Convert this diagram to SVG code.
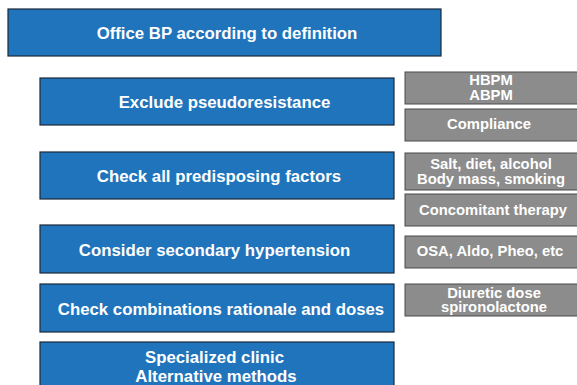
<svg xmlns="http://www.w3.org/2000/svg" width="577" height="385" viewBox="0 0 577 385">
<style>
.b{fill:#1f74bb;stroke:#1b2a3a;stroke-width:1.2}
.g{fill:#8c8c8c;stroke:#4a4a4a;stroke-width:1}
.t{font-family:"Liberation Sans",Arial,sans-serif;font-weight:bold;fill:#fff;text-anchor:middle}
.bt{font-size:16.8px}
.gt{font-size:14.8px}
</style>
<rect width="577" height="385" fill="#fff"/>
<g id="n1"><rect class="b" x="8" y="9" width="433" height="47"/><text class="t bt" x="227" y="39">Office BP according to definition</text></g>
<g id="n2"><rect class="b" x="40" y="78" width="354" height="47"/><text class="t bt" x="224.5" y="108">Exclude pseudoresistance</text></g>
<g id="n3"><rect class="b" x="40" y="152" width="354" height="47"/><text class="t bt" x="219" y="182">Check all predisposing factors</text></g>
<g id="n4"><rect class="b" x="40" y="225" width="354" height="48"/><text class="t bt" x="214.5" y="256">Consider secondary hypertension</text></g>
<g id="n5"><rect class="b" x="40" y="284" width="354" height="48"/><text class="t bt" x="221" y="315">Check combinations rationale and doses</text></g>
<g id="n6"><rect class="b" x="40" y="342" width="354" height="50"/><text class="t bt" x="214.5" y="363">Specialized clinic</text><text class="t bt" x="216" y="382">Alternative methods</text></g>
<g id="g1"><rect class="g" x="405" y="72" width="175" height="32"/><text class="t gt" x="491" y="85">HBPM</text><text class="t gt" x="491" y="100">ABPM</text></g>
<g id="g2"><rect class="g" x="405" y="109" width="175" height="32"/><text class="t gt" x="489" y="129">Compliance</text></g>
<g id="g3"><rect class="g" x="405" y="153" width="175" height="37"/><text class="t gt" x="491" y="169">Salt, diet, alcohol</text><text class="t gt" x="491" y="184">Body mass, smoking</text></g>
<g id="g4"><rect class="g" x="405" y="194" width="175" height="32"/><text class="t gt" x="493" y="215">Concomitant therapy</text></g>
<g id="g5"><rect class="g" x="405" y="236" width="175" height="32"/><text class="t gt" x="490" y="256">OSA, Aldo, Pheo, etc</text></g>
<g id="g6"><rect class="g" x="405" y="284" width="175" height="32"/><text class="t gt" x="494" y="298">Diuretic dose</text><text class="t gt" x="494" y="312">spironolactone</text></g>
<g id="connectors"/>
</svg>
